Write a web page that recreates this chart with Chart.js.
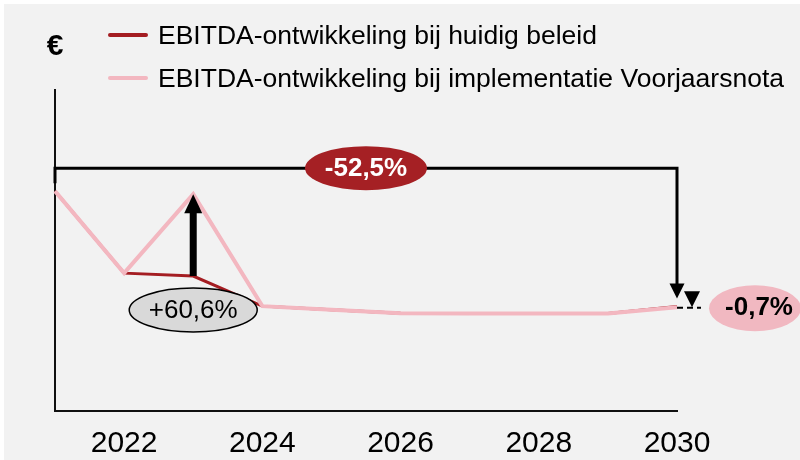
<!DOCTYPE html>
<html>
<head>
<meta charset="utf-8">
<title>EBITDA-ontwikkeling</title>
<script src="https://cdn.jsdelivr.net/npm/chart.js@4.4.1/dist/chart.umd.min.js"></script>
<style>
  html, body { margin: 0; padding: 0; background: #fff; }
  canvas { display: block; }
</style>
</head>
<body>
<canvas id="ebitda-chart" width="800" height="460"></canvas>
<script>
// jaren en EBITDA-index (2021 = 100)
const years = ['2021', '2022', '2023', '2024', '2025', '2026', '2027', '2028', '2029', '2030'];
const huidigBeleid = [100, 62.7, 61.4, 47.7, 46.1, 44.5, 44.3, 44.3, 44.3, 47.5];
const voorjaarsnota = [100, 62.7, 98.6, 47.7, 46.1, 44.5, 44.3, 44.3, 44.3, 47.2];

const seriesLabels = [
  'EBITDA-ontwikkeling bij huidig beleid',
  'EBITDA-ontwikkeling bij implementatie Voorjaarsnota'
];
const labelTotaal = '-52,5%';
const labelStijging = '+60,6%';
const labelVerschil = '-0,7%';

const FONT = '"Liberation Sans", Arial, sans-serif';
const RED = '#a41d22';
const PINK = '#f3b7c0';

Chart.defaults.font.family = FONT;

function ellipse(ctx, cx, cy, rx, ry, fill, stroke) {
  ctx.beginPath();
  ctx.ellipse(cx, cy, rx, ry, 0, 0, Math.PI * 2);
  ctx.fillStyle = fill;
  ctx.fill();
  if (stroke) {
    ctx.lineWidth = 1.5;
    ctx.strokeStyle = stroke;
    ctx.stroke();
  }
}

// driehoekige pijlpunt, dir = 1 wijst omlaag, -1 omhoog
function arrowHead(ctx, x, tipY, w, h, dir) {
  ctx.beginPath();
  ctx.moveTo(x, tipY);
  ctx.lineTo(x - w / 2, tipY - dir * h);
  ctx.lineTo(x + w / 2, tipY - dir * h);
  ctx.closePath();
  ctx.fillStyle = '#000';
  ctx.fill();
}

function label(ctx, text, x, y, font, color) {
  ctx.font = font;
  ctx.fillStyle = color;
  ctx.textAlign = 'center';
  ctx.textBaseline = 'middle';
  ctx.fillText(text, x, y);
}

const annotaties = {
  id: 'annotaties',
  beforeDraw(chart) {
    const ctx = chart.ctx;
    ctx.save();
    ctx.fillStyle = '#f2f2f2';
    ctx.fillRect(4, 4, chart.width - 4, chart.height - 4);
    ctx.restore();
  },
  afterDatasetsDraw(chart) {
    const {ctx, scales: {x, y}} = chart;
    const x0 = x.getPixelForValue(0);
    const x23 = x.getPixelForValue(2);
    const xEnd = x.getPixelForValue(years.length - 1);
    const yStart = y.getPixelForValue(huidigBeleid[0]);
    const yEnd = y.getPixelForValue(huidigBeleid[huidigBeleid.length - 1]);
    const yEndVj = y.getPixelForValue(voorjaarsnota[voorjaarsnota.length - 1]);
    const yLow = y.getPixelForValue(huidigBeleid[2]);
    const yHigh = y.getPixelForValue(voorjaarsnota[2]);

    ctx.save();

    // beugel 2021 -> 2030
    const by = yStart - 23;
    ctx.strokeStyle = '#000';
    ctx.lineWidth = 3;
    ctx.beginPath();
    ctx.moveTo(x0, by + 15);
    ctx.lineTo(x0, by);
    ctx.lineTo(xEnd, by);
    ctx.lineTo(xEnd, yEnd - 20);
    ctx.stroke();
    arrowHead(ctx, xEnd, yEnd - 8, 15, 15, 1);
    ellipse(ctx, (x0 + xEnd) / 2, by, 61, 22, '#a52024');
    label(ctx, labelTotaal, (x0 + xEnd) / 2, by + 1, 'bold 26px ' + FONT, '#fff');

    // stijging in 2023
    ctx.fillStyle = '#000';
    ctx.fillRect(x23 - 3.5, yHigh + 17, 7, yLow - yHigh - 17);
    arrowHead(ctx, x23, yHigh, 18, 19, -1);
    ellipse(ctx, x23, yLow + 34, 64, 22, '#d9d9d9', '#000');
    label(ctx, labelStijging, x23, yLow + 35, '26px ' + FONT, '#000');

    // verschil in 2030
    ctx.strokeStyle = '#000';
    ctx.lineWidth = 2;
    ctx.setLineDash([6, 4]);
    ctx.beginPath();
    ctx.moveTo(xEnd, yEndVj + 0.5);
    ctx.lineTo(xEnd + 24, yEndVj + 0.5);
    ctx.stroke();
    ctx.setLineDash([]);
    arrowHead(ctx, xEnd + 15, yEndVj, 16, 16, 1);
    ellipse(ctx, 755, yEndVj + 1, 46, 23, '#f1b8c1');
    label(ctx, labelVerschil, 759, yEndVj + 1, 'bold 26px ' + FONT, '#000');

    ctx.restore();
  },
  afterDraw(chart) {
    const ctx = chart.ctx;
    ctx.save();
    label(ctx, '€', 55, 47, 'bold 30px ' + FONT, '#000');
    chart.data.datasets.forEach((ds, i) => {
      const ly = 35 + i * 43;
      ctx.strokeStyle = ds.borderColor;
      ctx.lineWidth = 4;
      ctx.lineCap = 'round';
      ctx.beginPath();
      ctx.moveTo(110, ly);
      ctx.lineTo(146, ly);
      ctx.stroke();
      ctx.font = '26.5px ' + FONT;
      ctx.fillStyle = '#000';
      ctx.textAlign = 'left';
      ctx.textBaseline = 'middle';
      ctx.fillText(ds.label, 158, ly + 1.5);
    });
    ctx.restore();
  }
};

new Chart(document.getElementById('ebitda-chart'), {
  type: 'line',
  data: {
    labels: years,
    datasets: [
      {
        label: seriesLabels[0],
        data: huidigBeleid,
        borderColor: RED,
        borderWidth: 3,
        order: 1
      },
      {
        label: seriesLabels[1],
        data: voorjaarsnota,
        borderColor: PINK,
        borderWidth: 4,
        order: 0
      }
    ]
  },
  options: {
    responsive: false,
    animation: false,
    layout: { padding: { left: 55, right: 123, top: 90, bottom: 0 } },
    elements: { point: { radius: 0 }, line: { tension: 0 } },
    plugins: { legend: { display: false }, tooltip: { enabled: false } },
    scales: {
      x: {
        offset: false,
        grid: { display: false },
        border: { color: '#111', width: 2 },
        ticks: {
          color: '#000',
          font: { size: 30 },
          padding: 7,
          autoSkip: false,
          maxRotation: 0,
          callback: (v, i) => (i % 2 === 1 ? years[i] : '')
        },
        afterFit(scale) { scale.height = 49; }
      },
      y: {
        min: 0,
        max: 146,
        grid: { display: false },
        border: { color: '#111', width: 2 },
        ticks: { display: false },
        afterFit(scale) { scale.width = 0; }
      }
    }
  },
  plugins: [annotaties]
});
</script>
</body>
</html>
